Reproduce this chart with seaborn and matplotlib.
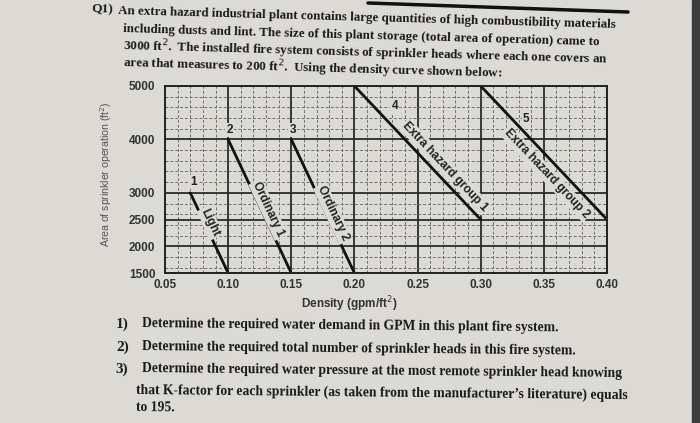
import math
import matplotlib
matplotlib.use("Agg")
import matplotlib.pyplot as plt
import matplotlib.ticker as mticker
from matplotlib.lines import Line2D
from matplotlib.patches import Rectangle
import seaborn as sns
import pandas as pd

# density / area curves (each one runs from its smallest density to its largest)
hazards = ['Light', 'Ordinary 1', 'Ordinary 2', 'Extra hazard group 1', 'Extra hazard group 2']
curve_numbers = ['1', '2', '3', '4', '5']
density_start = [0.07, 0.10, 0.15, 0.20, 0.30]
area_start = [3000, 4000, 4000, 5000, 5000]
density_end = [0.10, 0.15, 0.20, 0.30, 0.40]
area_end = [1500, 1500, 1500, 2500, 2500]

x_ticks = [0.05, 0.10, 0.15, 0.20, 0.25, 0.30, 0.35, 0.40]
x_tick_labels = ['0.05', '0.10', '0.15', '0.20', '0.25', '0.30', '0.35', '0.40']
y_ticks = [1500, 2000, 2500, 3000, 4000, 5000]
y_tick_labels = ['1500', '2000', '2500', '3000', '4000', '5000']

intro = [
    "An extra hazard industrial plant contains large quantities of high combustibility materials",
    "including dusts and lint. The size of this plant storage (total area of operation) came to",
    "3000 ft$^2$.  The installed fire system consists of sprinkler heads where each one covers an",
    "area that measures to 200 ft$^2$.  Using the density curve shown below:",
]
questions = [
    ("1)", "Determine the required water demand in GPM in this plant fire system."),
    ("2)", "Determine the required total number of sprinkler heads in this fire system."),
    ("3)", "Determine the required water pressure at the most remote sprinkler head knowing"),
    ("", "that K-factor for each sprinkler (as taken from the manufacturer\u2019s literature) equals"),
    ("", "to 195."),
]

rows = []
for h, x0, y0, x1, y1 in zip(hazards, density_start, area_start, density_end, area_end):
    rows.append({'hazard': h, 'density': x0, 'area': y0})
    rows.append({'hazard': h, 'density': x1, 'area': y1})
df = pd.DataFrame(rows)

sns.set_theme(style='white')
plt.rcParams['font.family'] = ['Liberation Sans', 'DejaVu Sans']

paper = '#dcdad5'
W, H = 700, 423
fig = plt.figure(figsize=(7, 4.23), dpi=100, facecolor=paper)


def fx(px):
    return px / W


def fy(py):
    return 1 - py / H


ax = fig.add_axes([fx(165), fy(273), fx(607) - fx(165), fy(86) - fy(273)])
ax.set_facecolor(paper)

sns.lineplot(data=df, x='density', y='area', units='hazard', estimator=None,
             sort=False, color='#111111', lw=2.0, ax=ax, legend=False)

ax.set_xlim(0.05, 0.40)
ax.set_ylim(1500, 5000)
ax.set_xticks(x_ticks)
ax.set_xticklabels(x_tick_labels)
ax.set_yticks(y_ticks)
ax.set_yticklabels(y_tick_labels)
ax.xaxis.set_minor_locator(mticker.MultipleLocator(0.01))
ax.yaxis.set_minor_locator(mticker.MultipleLocator(200))
ax.grid(which='major', color='#2a2a2a', lw=1.3)
ax.grid(which='minor', color='#707070', lw=0.7, linestyle=(0, (3, 2)))
ax.set_axisbelow(True)
ax.tick_params(which='both', length=0)
ax.tick_params(axis='x', pad=4, labelsize=8.5, labelcolor='#333333')
ax.tick_params(axis='y', pad=7, labelsize=8.5, labelcolor='#333333')
for lab in ax.get_xticklabels() + ax.get_yticklabels():
    lab.set_fontweight('bold')
for sp in ax.spines.values():
    sp.set_color('#222222')
    sp.set_linewidth(1.4)

ax.set_xlabel('Density (gpm/ft$^2$)', fontsize=8.5, color='#333333', fontweight='bold')
ax.xaxis.set_label_coords(0.416, -0.115)
ax.set_ylabel('Area of sprinkler operation (ft$^2$)', fontsize=7.6, color='#555555')
ax.yaxis.set_label_coords(-0.115, 0.53)

# curve labels written along each line
label_x = [0.0858, 0.1318, 0.1830, 0.2718, 0.3522]
label_y = [2440, 2685, 2610, 3490, 3360]
for h, x0, y0, x1, y1, lx, ly in zip(hazards, density_start, area_start, density_end,
                                      area_end, label_x, label_y):
    p0 = ax.transData.transform((x0, y0))
    p1 = ax.transData.transform((x1, y1))
    ang = math.degrees(math.atan2(p1[1] - p0[1], p1[0] - p0[0]))
    ax.text(lx, ly, h, rotation=ang, rotation_mode='anchor', ha='center', va='center',
            fontsize=8.6, fontweight='bold', color='#222222',
            bbox=dict(boxstyle='square,pad=0.12', fc=paper, ec='none'))

num_x = [0.073, 0.101, 0.151, 0.232, 0.336]
num_y = [3200, 4180, 4180, 4630, 4380]
for n, nx, ny in zip(curve_numbers, num_x, num_y):
    ax.text(nx, ny, n, ha='center', va='center', fontsize=8.5, fontweight='bold',
            color='#222222', bbox=dict(boxstyle='square,pad=0.1', fc=paper, ec='none'))

# page text
serif = ['Liberation Serif', 'DejaVu Serif']
fig.text(fx(92), fy(9), 'Q1)', family=serif, fontsize=9.6, fontweight='bold',
         color='#1a1a1a', va='center', ha='left', rotation=-1.6, rotation_mode='anchor')
intro_x = [118, 123, 123, 123]
intro_y = [11, 29, 46, 63]
for t, tx, ty in zip(intro, intro_x, intro_y):
    fig.text(fx(tx), fy(ty), t, family=serif, fontsize=9.4, fontweight='bold',
             color='#1a1a1a', va='center', ha='left', rotation=-1.6, rotation_mode='anchor')

q_y = [324, 347, 369, 390, 408]
for (num, t), ty in zip(questions, q_y):
    if num:
        fig.text(fx(116), fy(ty), num, family=serif, fontsize=11, fontweight='bold',
                 color='#1a1a1a', va='center', ha='left', rotation=-0.6, rotation_mode='anchor')
        tx = 142
    else:
        tx = 136
    fig.text(fx(tx), fy(ty), t, family=serif, fontsize=9.8, fontweight='bold',
             color='#1a1a1a', va='center', ha='left', rotation=-0.6, rotation_mode='anchor')

# page border rule and edge of the sheet
fig.add_artist(Line2D([fx(368), fx(628)], [fy(3), fy(12)], color='#111111', lw=2.5))
fig.add_artist(Rectangle((fx(692), 0), fx(8), 1, color='#3b3b3b', transform=fig.transFigure))

fig.savefig('out.png', dpi=100, facecolor=paper)
